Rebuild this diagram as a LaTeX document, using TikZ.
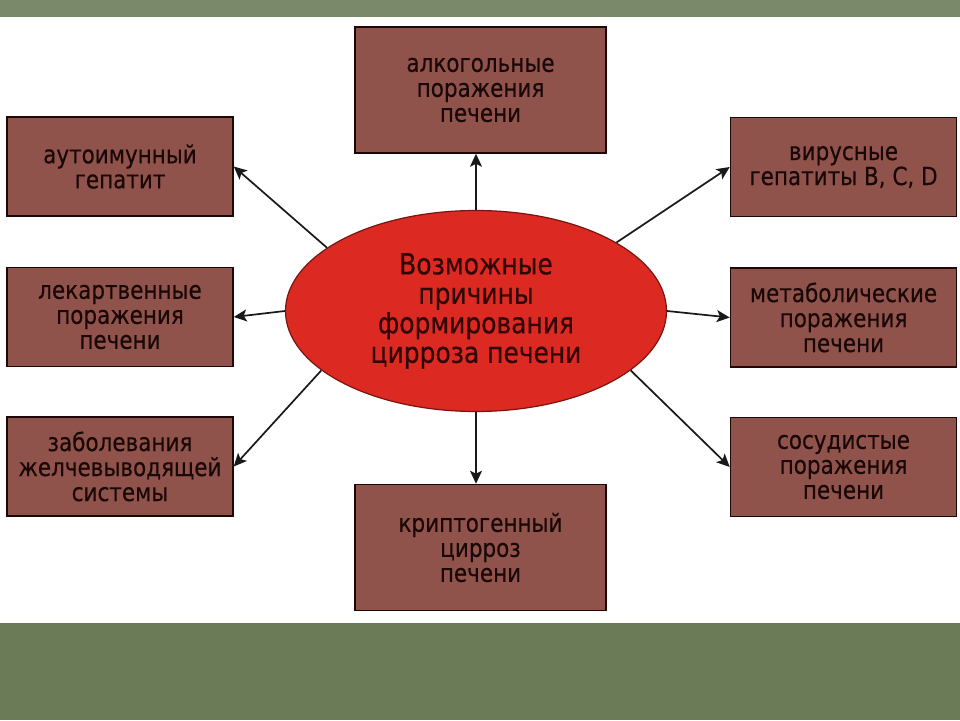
\documentclass[tikz,border=0pt]{standalone}
\usepackage{fontspec}
\setmainfont[FakeStretch=0.86,FakeBold=0.4]{DejaVu Sans}
\usetikzlibrary{arrows.meta,shapes.geometric}
\definecolor{bandtop}{HTML}{7B896B}
\definecolor{bandbot}{HTML}{6B7B57}
\definecolor{boxfill}{HTML}{8F534C}
\definecolor{boxline}{HTML}{1E0806}
\definecolor{boxtext}{HTML}{1A0806}
\definecolor{ovalfill}{HTML}{DC2A22}
\definecolor{ovalline}{HTML}{7A1410}
\definecolor{ovaltext}{HTML}{300604}
\begin{document}
\begin{tikzpicture}[x=1pt,y=-1pt,
    cause/.style={draw=boxline,line width=1.5pt,fill=boxfill,inner sep=0pt,
      align=center,text=boxtext,font=\fontsize{25}{25}\selectfont},
    small/.style={cause,minimum width=226pt,minimum height=99pt},
    wide/.style={cause,minimum width=251pt,minimum height=126pt},
    oval/.style={ellipse,draw=ovalline,line width=1.2pt,fill=ovalfill,inner sep=0pt,
      minimum width=381pt,minimum height=201pt,align=center,text=ovaltext,
      font=\fontsize{29}{29.5}\selectfont},
    arr/.style={-{Stealth[length=13pt,width=12pt,inset=3pt]},line width=1.7pt,draw=black!90}]
  \useasboundingbox (0,0) rectangle (960,720);
  \fill[white] (0,0) rectangle (960,720);
  \fill[bandtop] (0,0) rectangle (960,17);
  \fill[bandbot] (0,623) rectangle (960,720);

  \node[oval] (c) at (476,311) {Возможные\\причины\\формирования\\цирроза печени};

  \node[wide] (alk) at (480.5,90) {алкогольные\\поражения\\печени};
  \node[wide] (kript) at (480.5,547.5) {криптогенный\\цирроз\\печени};

  \node[small] (auto) at (120,166.5) {аутоимунный\\гепатит};
  \node[small] (lek) at (120,317) {лекартвенные\\поражения\\печени};
  \node[small] (zhel) at (120,466.5) {заболевания\\желчевыводящей\\системы};

  \node[small] (vir) at (843.5,167) {вирусные\\гепатиты B, C, D};
  \node[small] (met) at (843.5,317.5) {метаболические\\поражения\\печени};
  \node[small] (sos) at (843.5,467) {сосудистые\\поражения\\печени};

  \draw[arr] (c.north) -- (c.north |- alk.south);
  \draw[arr] (c.south) -- (c.south |- kript.north);
  \foreach \a/\b in {c.157/auto.east, c.west/lek.east, c.201/zhel.east,
                     c.26/vir.west, c.east/met.west, c.339/sos.west} {
    \draw[arr] (\a) -- (\b);
  }
\end{tikzpicture}
\end{document}
